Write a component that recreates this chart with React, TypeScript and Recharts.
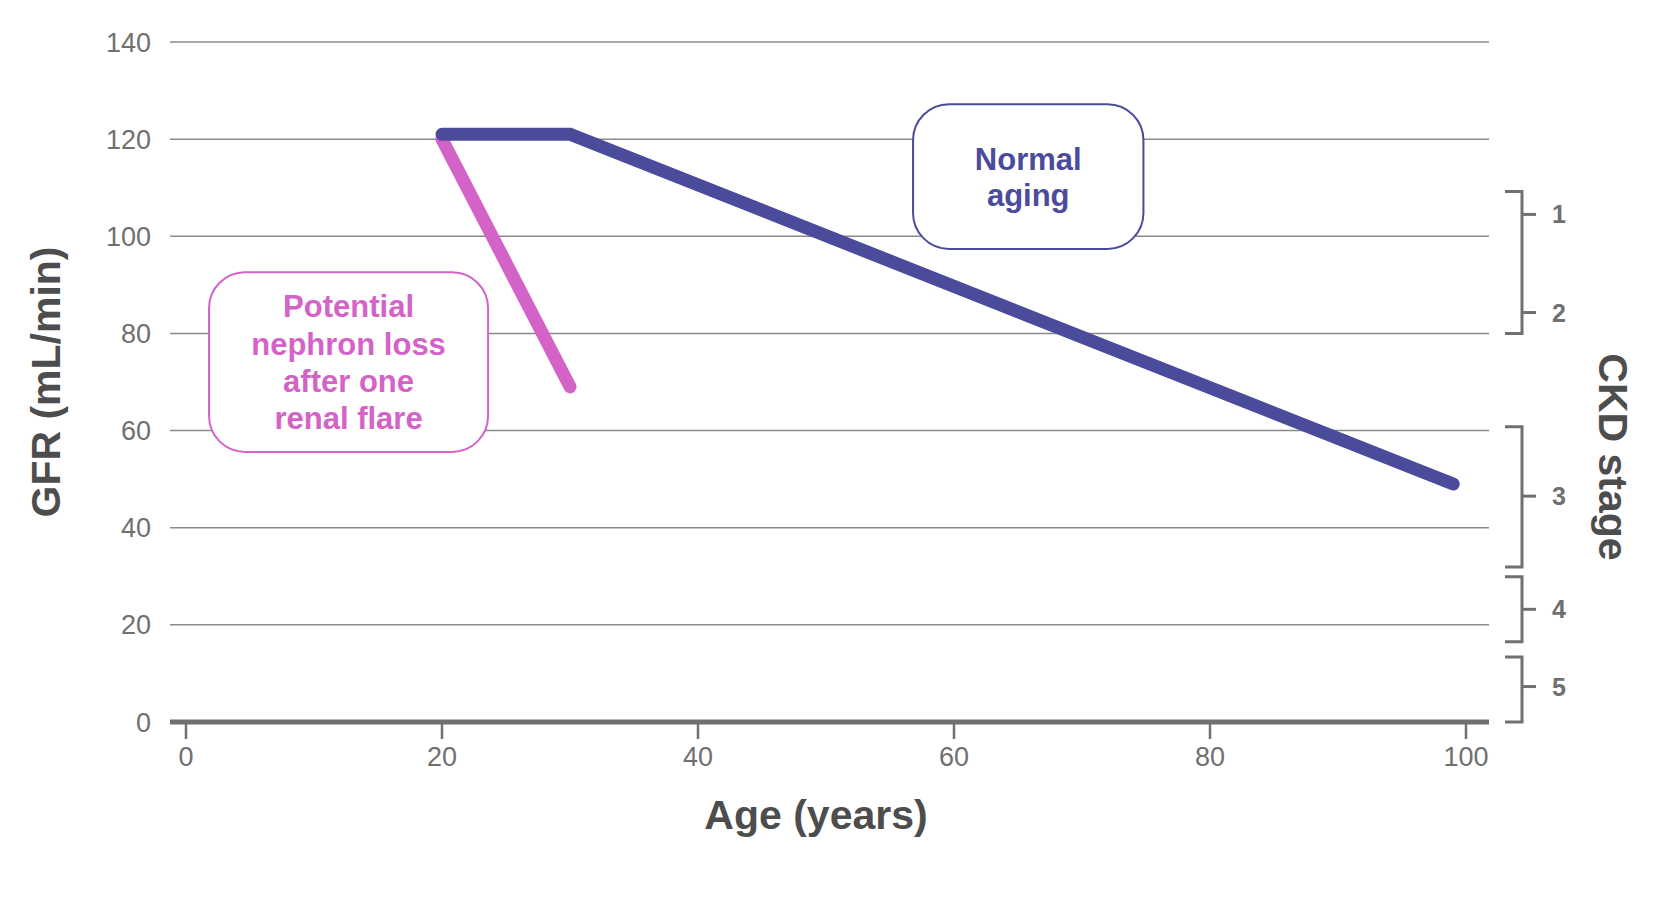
import React from 'react';
import { CartesianGrid, Line, LineChart, ReferenceArea, ReferenceLine, XAxis, YAxis } from 'recharts';

const FONT = '"Liberation Sans", Arial, Helvetica, sans-serif';
const BLUE = '#4b4b9c';
const PINK = '#d463c8';
const GRAY = '#707070';
const DARK = '#4d4d4d';

// axes
const ageTicks = [0, 20, 40, 60, 80, 100];
const gfrTicks = [0, 20, 40, 60, 80, 100, 120, 140];

// series
const normalAges = [20, 30, 99];
const normalGfr = [121, 121, 49];
const flareAges = [20, 30];
const flareGfr = [120, 69];

// CKD stages on the right
const stageLabels = ['1', '2', '3', '4', '5'];
const stageGfr = [104.5, 84.3, 46.5, 23.2, 7.3];
const stageBracketTop = [109.2, 60.8, 29.9, 13.4];
const stageBracketBottom = [80, 31.9, 16.5, 0];

const normalData = normalAges.map((age, i) => ({ age, gfr: normalGfr[i] }));
const flareData = flareAges.map((age, i) => ({ age, gfr: flareGfr[i] }));

const W = 1656;
const H = 918;

function AnnotationBox({ x, y, width, height, lines, color, lineHeight }) {
  const cx = x + width / 2;
  const cy = y + height / 2;
  const first = cy - ((lines.length - 1) * lineHeight) / 2;
  return (
    <g>
      <rect x={x} y={y} width={width} height={height} rx={36} ry={36} fill="#fff" stroke={color} strokeWidth={2} />
      <text textAnchor="middle" fill={color} fontFamily={FONT} fontSize={31} fontWeight="bold">
        {lines.map((l, i) => (
          <tspan key={i} x={cx} y={first + i * lineHeight} dy="0.36em">
            {l}
          </tspan>
        ))}
      </text>
    </g>
  );
}

function Bracket({ y, height }) {
  const d = `M1505 ${y} H1522 V${y + height} H1505`;
  return <path d={d} fill="none" stroke={GRAY} strokeWidth={3} />;
}

function StageMark({ y1, label }) {
  return (
    <g>
      <line x1={1522} x2={1536} y1={y1} y2={y1} stroke={GRAY} strokeWidth={3} />
      <text x={1559} y={y1} dy="0.36em" textAnchor="middle" fill={GRAY} fontFamily={FONT} fontSize={25} fontWeight="bold">
        {label}
      </text>
    </g>
  );
}

export default function App() {
  return (
    <div style={{ position: 'absolute', left: 0, top: 0, width: W, height: H, background: '#fff' }}>
      <LineChart width={W} height={H} margin={{ top: 42, right: 0, bottom: 0, left: 0 }}>
        <CartesianGrid vertical={false} stroke="#8a8a8a" strokeWidth={1.5} />
        <XAxis
          type="number"
          dataKey="age"
          domain={[0, 100]}
          ticks={ageTicks}
          interval={0}
          padding={{ left: 16, right: 23 }}
          height={196}
          axisLine={{ stroke: GRAY, strokeWidth: 5 }}
          tickLine={{ stroke: GRAY, strokeWidth: 2.5 }}
          tickSize={17}
          tickMargin={8}
          tick={{ fill: GRAY, fontSize: 27, fontFamily: FONT }}
          label={{
            content: () => (
              <text x={816} y={829} textAnchor="middle" fill={DARK} fontFamily={FONT} fontSize={41} fontWeight="bold">
                Age (years)
              </text>
            ),
          }}
        />
        <YAxis
          type="number"
          domain={[0, 140]}
          ticks={gfrTicks}
          interval={0}
          width={170}
          axisLine={false}
          tickLine={false}
          tickSize={0}
          tickMargin={19}
          tick={{ fill: GRAY, fontSize: 27, fontFamily: FONT }}
          label={{
            content: () => (
              <text transform="translate(60 382) rotate(-90)" textAnchor="middle" fill={DARK} fontFamily={FONT} fontSize={41} fontWeight="bold">
                GFR (mL/min)
              </text>
            ),
          }}
        />
        <YAxis
          yAxisId="ckd"
          orientation="right"
          type="number"
          domain={[0, 140]}
          width={167}
          axisLine={false}
          tickLine={false}
          tick={false}
          label={{
            content: () => (
              <text transform="translate(1599 457) rotate(90)" textAnchor="middle" fill={DARK} fontFamily={FONT} fontSize={41} fontWeight="bold">
                CKD stage
              </text>
            ),
          }}
        />
        {stageBracketTop.map((top, i) => (
          <ReferenceArea key={'b' + i} y1={stageBracketBottom[i]} y2={top} shape={(p) => <Bracket {...p} />} />
        ))}
        {stageGfr.map((v, i) => (
          <ReferenceLine key={'s' + i} y={v} shape={(p) => <StageMark {...p} label={stageLabels[i]} />} />
        ))}
        <ReferenceArea
          x1={1.8}
          x2={23.6}
          y1={55.6}
          y2={92.6}
          shape={(p) => (
            <AnnotationBox {...p} color={PINK} lineHeight={37.4} lines={['Potential', 'nephron loss', 'after one', 'renal flare']} />
          )}
        />
        <ReferenceArea
          x1={56.8}
          x2={74.8}
          y1={97.4}
          y2={127.2}
          shape={(p) => <AnnotationBox {...p} color={BLUE} lineHeight={36} lines={['Normal', 'aging']} />}
        />
        <Line
          data={flareData}
          dataKey="gfr"
          type="linear"
          stroke={PINK}
          strokeWidth={13}
          strokeLinecap="round"
          dot={false}
          activeDot={false}
          isAnimationActive={false}
        />
        <Line
          data={normalData}
          dataKey="gfr"
          type="linear"
          stroke={BLUE}
          strokeWidth={13}
          strokeLinecap="round"
          strokeLinejoin="miter"
          dot={false}
          activeDot={false}
          isAnimationActive={false}
        />
      </LineChart>
    </div>
  );
}
